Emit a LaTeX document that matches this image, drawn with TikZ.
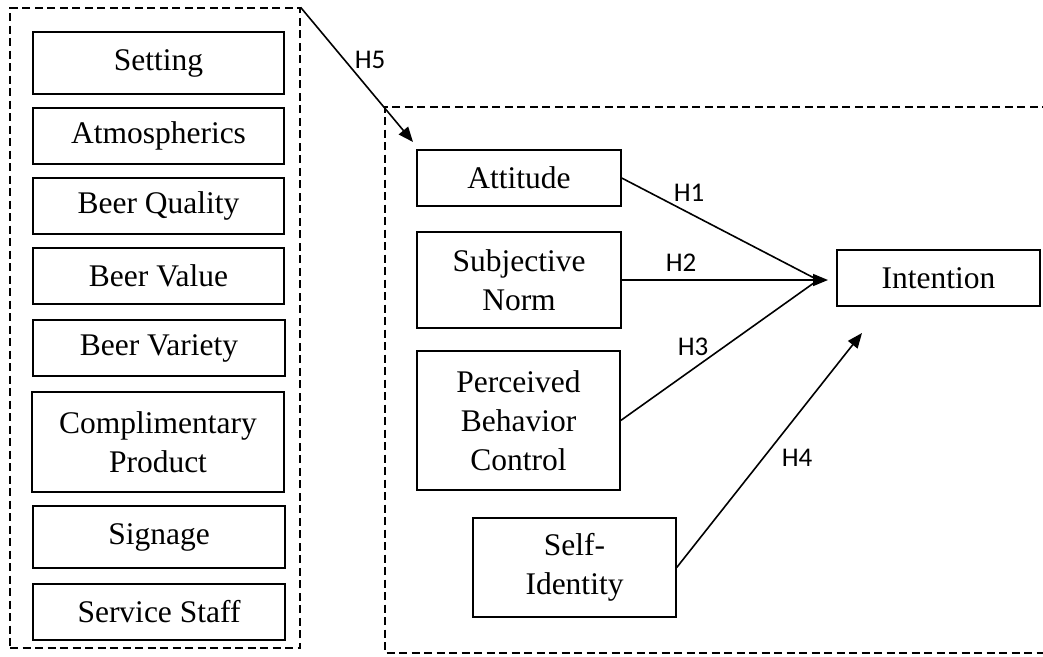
\documentclass[tikz,border=0pt]{standalone}
\usepackage{fontspec}
\setmainfont{Liberation Serif}
\newfontfamily\labelfont{Carlito}
\usetikzlibrary{arrows.meta}

\begin{document}
\begin{tikzpicture}[x=1pt,y=-1pt,
  box/.style={draw, line width=1.4pt, align=center, inner sep=0pt,
    font=\fontsize{31.5}{39}\selectfont},
  grp/.style={draw, line width=1.3pt, dash pattern=on 8pt off 4.5pt},
  arr/.style={line width=1.6pt, -{Triangle[length=15pt,width=12pt]}},
  link/.style={line width=1.6pt},
  hyp/.style={font=\labelfont\fontsize{27}{30}\selectfont, inner sep=0pt}]

\useasboundingbox (0,0) rectangle (1043,656);

% group of store attributes
\node[grp, inner sep=0pt, minimum width=290pt, minimum height=640pt] (drivers) at (155,328) {};

\node[box, minimum width=251pt, minimum height=62pt]  (setting) at (158.5,63)  {Setting};
\node[box, minimum width=251pt, minimum height=56pt]  (atmo)    at (158.5,136) {Atmospherics};
\node[box, minimum width=251pt, minimum height=56pt]  (quality) at (158.5,206) {Beer Quality};
\node[box, minimum width=251pt, minimum height=56pt]  (value)   at (158.5,276) {Beer Value};
\node[box, minimum width=252pt, minimum height=56pt]  (variety) at (159,348)   {Beer Variety};
\node[box, minimum width=252pt, minimum height=100pt] (compl)   at (158,442)   {Complimentary\\Product};
\node[box, minimum width=252pt, minimum height=62pt]  (signage) at (159,537)   {Signage};
\node[box, minimum width=252pt, minimum height=56pt]  (staff)   at (159,612)   {Service Staff};

% TPB group (open on the right)
\draw[grp] (1050,107) -- (385,107) -- (385,653) -- (1050,653);

\node[box, minimum width=204pt, minimum height=56pt]  (att)  at (519,178)     {Attitude};
\node[box, minimum width=204pt, minimum height=96pt]  (norm) at (519,280)     {Subjective\\Norm};
\node[box, minimum width=203pt, minimum height=139pt] (pbc)  at (518.5,420.5) {Perceived\\Behavior\\Control};
\node[box, minimum width=203pt, minimum height=99pt]  (self) at (574.5,567.5) {Self-\\Identity};
\node[box, minimum width=203pt, minimum height=56pt]  (int)  at (938.5,278)   {Intention};

% connectors
\coordinate (meet)  at (828,280);
\coordinate (join)  at (818,280);
\coordinate (h4tip) at (862,333);
\coordinate (h5tip) at (413,142);

\draw[arr]  (drivers.north east) -- (h5tip);
\draw[link] (att.east) -- (join);
\draw[arr]  (norm.east) -- (meet);
\draw[link] (pbc.east) -- (join);
\draw[arr]  (self.east) -- (h4tip);

% hypothesis labels
\node[hyp] (lh5) at (370,60)  {H5};
\node[hyp] (lh1) at (689,193) {H1};
\node[hyp] (lh2) at (681,263) {H2};
\node[hyp] (lh3) at (693,347) {H3};
\node[hyp] (lh4) at (797,458) {H4};
\end{tikzpicture}
\end{document}
